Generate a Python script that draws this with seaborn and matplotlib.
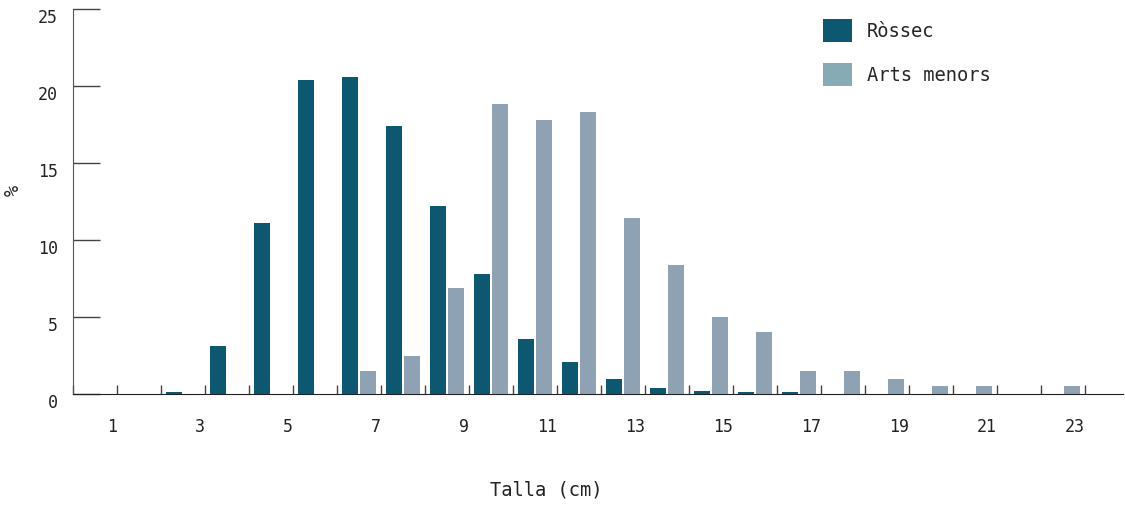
import numpy as np
import pandas as pd
import matplotlib
matplotlib.use("Agg")
import matplotlib.pyplot as plt
from matplotlib.patches import Patch
import seaborn as sns

# Dades: distribució de talles (%)
tallas = list(range(1, 24))
rossec = [0, 0, 0.1, 3.1, 11.1, 20.4, 20.6, 17.4, 12.2, 7.8, 3.6, 2.1,
          1.0, 0.4, 0.2, 0.1, 0.1, 0, 0, 0, 0, 0, 0]
arts_menors = [0, 0, 0, 0, 0, 0, 1.5, 2.5, 6.9, 18.8, 17.8, 18.3,
               11.4, 8.4, 5.0, 4.0, 1.5, 1.5, 1.0, 0.5, 0.5, 0, 0.5]
series = ["Ròssec", "Arts menors"]
bar_colors = ["#0d5870", "#8ea2b3"]
legend_colors = ["#0d5870", "#86abb5"]

df = pd.DataFrame({
    "Talla": tallas * 2,
    "pct": rossec + arts_menors,
    "serie": [series[0]] * len(tallas) + [series[1]] * len(tallas),
})

sns.set_style("white")
plt.rcParams["font.family"] = ["DejaVu Sans Mono"]

fig = plt.figure(figsize=(11.25, 5.07), dpi=100)
ax = fig.add_axes([73 / 1125, 1 - 394 / 507, 1050 / 1125, 385 / 507])

sns.barplot(data=df, x="Talla", y="pct", hue="serie", order=tallas,
            hue_order=series, palette=bar_colors, width=0.8, gap=0.08,
            saturation=1, linewidth=0, legend=False, ax=ax)

ax.set_ylim(0, 25)
ax.set_xlim(-0.5, 23.36)
ax.set_yticks([0, 5, 10, 15, 20, 25])
for lab in ax.get_yticklabels():
    lab.set_va("top")

# ticks a les vores de cada categoria, etiquetes a les talles senars
pos = np.arange(len(tallas) + 1) - 0.5
labs = [""] + [str(t) if t % 2 == 1 else "" for t in tallas]
ax.set_xticks(pos)
ax.set_xticklabels(labs, ha="right")

ax.tick_params(axis="x", bottom=True, direction="in", length=6.5, width=1,
               color="#444444", pad=17, labelsize=12, labelcolor="#222222")
ax.tick_params(axis="y", left=True, direction="in", length=19.5, width=1,
               color="#444444", pad=11, labelsize=12, labelcolor="#222222")

for s in ["top", "right"]:
    ax.spines[s].set_visible(False)
ax.spines["left"].set_color("#555555")
ax.spines["bottom"].set_color("#222222")

ax.set_xlabel("Talla (cm)", fontsize=13.5, color="#222222")
ax.set_ylabel("%", fontsize=13.5, color="#222222")
ax.xaxis.set_label_coords(0.451, -0.225)
ax.yaxis.set_label_coords(-0.048, 0.53)

handles = [Patch(facecolor=c, edgecolor="none") for c in legend_colors]
fig.legend(handles, series, loc="upper left", bbox_to_anchor=(823 / 1125, 1 - 19 / 507),
           frameon=False, fontsize=13.5, handlelength=1.55, handleheight=1.5,
           labelspacing=1.15, handletextpad=0.8, borderpad=0, borderaxespad=0)

fig.savefig("out.png", dpi=100)
